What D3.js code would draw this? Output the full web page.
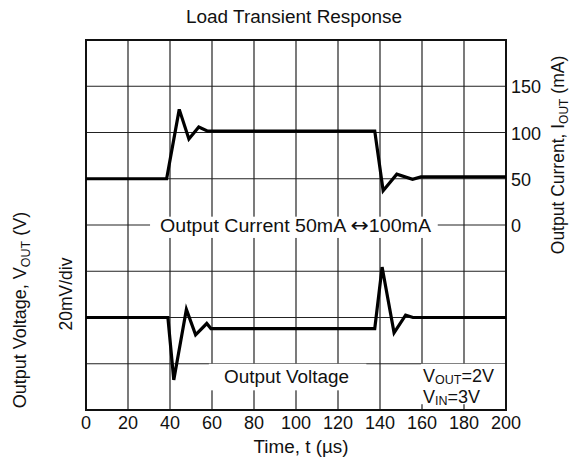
<!DOCTYPE html>
<html lang="en">
<head>
<meta charset="UTF-8">
<title>Load Transient Response</title>
<script src="https://cdn.jsdelivr.net/npm/d3@7"></script>
<style>
  body { margin: 0; background: #fff; }
  text { font-family: "Liberation Sans", Arial, sans-serif; fill: #111; }
</style>
</head>
<body>
<script>
    // time axis (us)
    var timeTicks = [0, 20, 40, 60, 80, 100, 120, 140, 160, 180, 200];
    var currentTicks = [0, 50, 100, 150];

    // output current trace (mA)
    var currentT = [0, 38.4, 44.4, 49, 53.7, 58, 137.5, 141.5, 148, 155.5, 159.5, 200];
    var currentI = [50, 50, 125, 93, 106, 101.5, 101.5, 37, 55, 49.5, 52, 52];

    // output voltage deviation trace (mV, 20mV/div)
    var voltageT = [0, 39, 41.8, 47.8, 52.2, 57.5, 59.5, 137.5, 141, 146.7, 152.2, 155.7, 200];
    var voltageV = [0, 0, -27, 3.5, -7.5, -2.6, -4.8, -4.8, 21.8, -6.6, 1, 0, 0];

    var width = 571, height = 461;
    var pLeft = 86, pRight = 506, pTop = 40, pBottom = 410;

    var svg = d3.select("body").append("svg")
            .attr("width", width)
            .attr("height", height);

    var x = d3.scaleLinear().domain([0, 200]).range([pLeft, pRight]);
    // 8 vertical divisions shared by both traces
    var yI = d3.scaleLinear().domain([-200, 200]).range([pBottom, pTop]);
    var yV = d3.scaleLinear().domain([-40, 120]).range([pBottom, pTop]);

    // grid
    var grid = svg.append("g").attr("stroke", "#222").attr("stroke-width", 1.2);
    grid.selectAll("line.v").data(timeTicks.slice(1, -1)).enter().append("line")
            .attr("x1", function (d) { return x(d); })
            .attr("x2", function (d) { return x(d); })
            .attr("y1", pTop).attr("y2", pBottom);
    grid.selectAll("line.h").data(d3.range(-150, 200, 50)).enter().append("line")
            .attr("x1", pLeft).attr("x2", pRight)
            .attr("y1", function (d) { return yI(d); })
            .attr("y2", function (d) { return yI(d); });

    // white boxes behind the in-plot labels
    svg.append("rect").attr("x", x(30.5)).attr("y", yI(9)).attr("width", x(167.5) - x(30.5)).attr("height", yI(-14) - yI(9)).attr("fill", "#fff");
    svg.append("rect").attr("x", x(58.5)).attr("y", yV(-20)).attr("width", x(133.5) - x(58.5)).attr("height", yV(-31.5) - yV(-20)).attr("fill", "#fff");
    svg.append("rect").attr("x", x(159.5)).attr("y", yV(-20)).attr("width", x(199.5) - x(159.5)).attr("height", yV(-37.5) - yV(-20)).attr("fill", "#fff");

    // frame
    svg.append("rect").attr("x", pLeft).attr("y", pTop)
            .attr("width", pRight - pLeft).attr("height", pBottom - pTop)
            .attr("fill", "none").attr("stroke", "#111").attr("stroke-width", 2);

    // traces
    var currentLine = d3.line()
            .x(function (d, i) { return x(currentT[i]); })
            .y(function (d) { return yI(d); });
    var voltageLine = d3.line()
            .x(function (d, i) { return x(voltageT[i]); })
            .y(function (d) { return yV(d); });

    svg.append("path").datum(currentI).attr("d", currentLine)
            .attr("fill", "none").attr("stroke", "#000").attr("stroke-width", 3.2);
    svg.append("path").datum(voltageV).attr("d", voltageLine)
            .attr("fill", "none").attr("stroke", "#000").attr("stroke-width", 3.2);

    // title
    svg.append("text").attr("x", 294).attr("y", 23).attr("text-anchor", "middle")
            .attr("textLength", 216).attr("lengthAdjust", "spacingAndGlyphs")
            .style("font-size", "17.5px").text("Load Transient Response");

    // x tick labels
    svg.selectAll("text.xt").data(timeTicks).enter().append("text")
            .attr("x", function (d) { return x(d); })
            .attr("y", 429)
            .attr("text-anchor", "middle")
            .style("font-size", "18px")
            .text(function (d) { return d; });
    svg.append("text").attr("x", 301).attr("y", 453).attr("text-anchor", "middle")
            .attr("textLength", 95).attr("lengthAdjust", "spacingAndGlyphs")
            .style("font-size", "18px").text("Time, t (µs)");

    // right current ticks
    svg.selectAll("text.yt").data(currentTicks).enter().append("text")
            .attr("x", pRight + 5)
            .attr("y", function (d) { return yI(d) + 7; })
            .style("font-size", "18px")
            .text(function (d) { return d; });

    // right axis title
    var rt = svg.append("text").attr("transform", "translate(564,155) rotate(-90)")
            .attr("text-anchor", "middle").style("font-size", "17.5px");
    rt.append("tspan").text("Output Current, I");
    rt.append("tspan").attr("dy", 4).style("font-size", "12px").text("OUT");
    rt.append("tspan").attr("dy", -4).text(" (mA)");

    // left axis titles
    var lt = svg.append("text").attr("transform", "translate(26,310) rotate(-90)")
            .attr("text-anchor", "middle").style("font-size", "18px");
    lt.append("tspan").text("Output Voltage, V");
    lt.append("tspan").attr("dy", 4).style("font-size", "12.5px").text("OUT");
    lt.append("tspan").attr("dy", -4).text(" (V)");
    svg.append("text").attr("transform", "translate(72,294) rotate(-90)")
            .attr("text-anchor", "middle").style("font-size", "17.5px").text("20mV/div");

    // in-plot labels
    var cl = svg.append("text").attr("x", 295.5).attr("y", yI(0) + 7).attr("text-anchor", "middle")
            .attr("textLength", 271).attr("lengthAdjust", "spacingAndGlyphs")
            .style("font-size", "18px");
    cl.append("tspan").text("Output Current 50mA ");
    cl.append("tspan").style("font-family", "DejaVu Sans").style("font-size", "20px").text("\u2194");
    cl.append("tspan").text("100mA");
    svg.append("text").attr("x", 286.5).attr("y", yV(-25.5) + 7).attr("text-anchor", "middle")
            .attr("textLength", 125).attr("lengthAdjust", "spacingAndGlyphs")
            .style("font-size", "18px").text("Output Voltage");

    var v1 = svg.append("text").attr("x", x(160) + 1).attr("y", 382).style("font-size", "18px");
    v1.append("tspan").text("V");
    v1.append("tspan").attr("dy", 2).style("font-size", "12.5px").text("OUT");
    v1.append("tspan").attr("dy", -2).text("=2V");
    var v2 = svg.append("text").attr("x", x(160) + 1).attr("y", 403).style("font-size", "18px");
    v2.append("tspan").text("V");
    v2.append("tspan").attr("dy", 2).style("font-size", "12.5px").text("IN");
    v2.append("tspan").attr("dy", -2).text("=3V");
</script>
</body>
</html>
